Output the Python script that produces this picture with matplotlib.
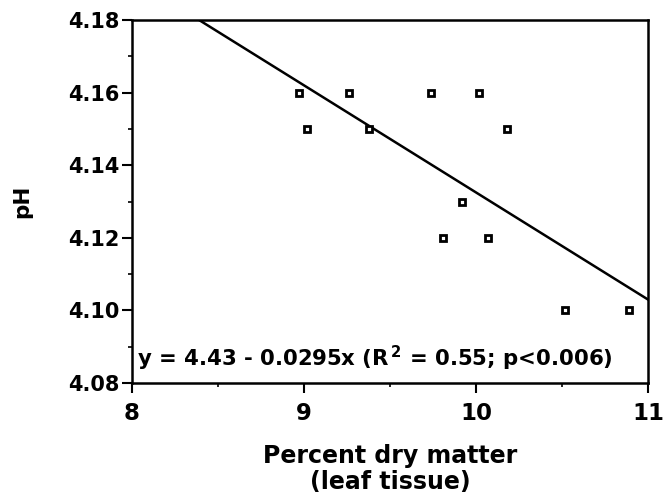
import matplotlib
matplotlib.use("Agg")
import matplotlib.pyplot as plt
import numpy as np
from matplotlib.ticker import MultipleLocator

plt.rcParams['font.family'] = ['DejaVu Sans']
plt.rcParams['mathtext.fontset'] = 'dejavusans'

# Data
dry_matter = [8.97, 9.02, 9.26, 9.38, 9.74, 10.02, 10.18, 9.92, 9.81, 10.07, 10.52, 10.89]
ph_values = [4.16, 4.15, 4.16, 4.15, 4.16, 4.16, 4.15, 4.13, 4.12, 4.12, 4.10, 4.10]
fit_intercept = 4.4275
fit_slope = -0.0295
x_ticks = [8, 9, 10, 11]
y_ticks = [4.08, 4.10, 4.12, 4.14, 4.16, 4.18]
equation_text = r'y = 4.43 - 0.0295x (R$^{\,\mathbf{2}}$ = 0.55; p<0.006)'

fig = plt.figure(figsize=(6.71, 4.96), dpi=100)
ax = fig.add_axes([0.1967, 0.2278, 0.769, 0.7319])

ax.set_xlim(8, 11)
ax.set_ylim(4.08, 4.18)

xl = np.array([8, 11])
ax.plot(xl, fit_intercept + fit_slope * xl, color='black', lw=1.8, zorder=2, clip_on=True)

ax.plot(dry_matter, ph_values, linestyle='none', marker='s', markersize=3.9,
        markerfacecolor='white', markeredgecolor='black', markeredgewidth=2.0, zorder=3)

ax.text(8.03, 4.0845, equation_text, fontsize=15.3, fontweight='bold',
        ha='left', va='baseline')

ax.set_xticks(x_ticks)
ax.set_xticklabels([str(v) for v in x_ticks], fontsize=16.5, fontweight='bold')
ax.set_yticks(y_ticks)
ax.set_yticklabels([f'{v:.2f}' for v in y_ticks], fontsize=15, fontweight='bold')
ax.xaxis.set_minor_locator(MultipleLocator(0.5))
ax.yaxis.set_minor_locator(MultipleLocator(0.01))
ax.tick_params(axis='both', which='major', direction='out', length=7, width=1.5, color='black')
ax.tick_params(axis='both', which='minor', direction='out', length=3, width=1.2, color='black')
ax.tick_params(axis='x', which='major', pad=7)
ax.tick_params(axis='y', which='major', pad=2)

for s in ax.spines.values():
    s.set_linewidth(1.8)
    s.set_color('black')

ax.set_ylabel('pH', fontsize=15.5, fontweight='bold', labelpad=26)
ax.set_xlabel('Percent dry matter\n(leaf tissue)', fontsize=17, fontweight='bold',
              linespacing=1.12, labelpad=13)

fig.savefig('out.png', dpi=100)
